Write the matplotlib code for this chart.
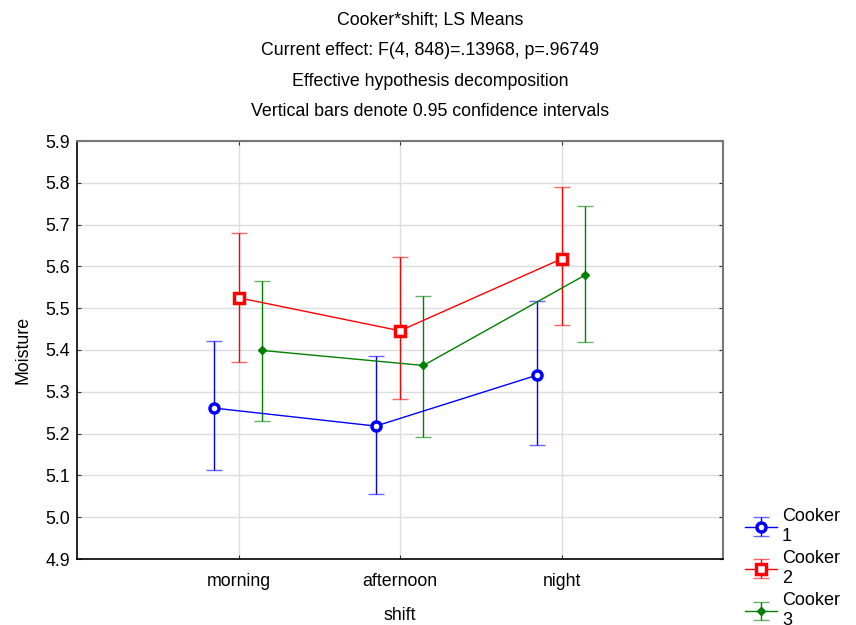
import matplotlib
matplotlib.use("Agg")
import matplotlib.pyplot as plt
import numpy as np

plt.rcParams['font.family'] = ['Liberation Sans', 'DejaVu Sans']

shifts = ["morning", "afternoon", "night"]
cookers = ["Cooker\n1", "Cooker\n2", "Cooker\n3"]
means = {
    "1": [5.261, 5.218, 5.340],
    "2": [5.525, 5.446, 5.618],
    "3": [5.399, 5.363, 5.579],
}
upper = {
    "1": [5.422, 5.386, 5.517],
    "2": [5.679, 5.622, 5.790],
    "3": [5.564, 5.530, 5.745],
}
lower = {
    "1": [5.112, 5.055, 5.173],
    "2": [5.372, 5.282, 5.460],
    "3": [5.229, 5.192, 5.419],
}
titles = [
    "Cooker*shift; LS Means",
    "Current effect: F(4, 848)=.13968, p=.96749",
    "Effective hypothesis decomposition",
    "Vertical bars denote 0.95 confidence intervals",
]

W, H = 856, 625
FS = 12.8
fig = plt.figure(figsize=(W / 100, H / 100), dpi=100)
ax = fig.add_axes([77 / W, 1 - 559 / H, (723 - 77) / W, (559 - 141) / H])

styles = {
    "1": dict(color="#0000ff", marker="o", mfc="white", mec="#0000ff", ms=6.5, mew=2.5, off=-0.15),
    "2": dict(color="#ff0000", marker="s", mfc="white", mec="#ff0000", ms=6.5, mew=2.5, off=0.0),
    "3": dict(color="#008000", marker="D", mfc="#008000", mec="#008000", ms=4.5, mew=1, off=0.145),
}
x = np.arange(1, len(shifts) + 1)
handles = []
for key, lab in zip(["1", "2", "3"], cookers):
    s = styles[key]
    m = np.array(means[key])
    yerr = np.vstack([m - np.array(lower[key]), np.array(upper[key]) - m])
    eb = ax.errorbar(x + s["off"], m, yerr=yerr, color=s["color"], lw=1,
                     elinewidth=1, capsize=6, capthick=1,
                     marker=s["marker"], mfc=s["mfc"], mec=s["mec"],
                     ms=s["ms"], mew=s["mew"], label=lab, zorder=3)
    for cap in eb[1]:
        cap.set_markeredgewidth(1)
        cap.set_alpha(0.6)
    handles.append(eb)

ax.set_xlim(0, 4)
ax.set_ylim(4.9, 5.9)
ax.set_xticks(x)
ax.set_xticklabels(shifts, fontsize=FS)
yt = np.round(np.arange(4.9, 5.91, 0.1), 1)
ax.set_yticks(yt)
ax.set_yticklabels([f"{v:.1f}" for v in yt], fontsize=FS)
ax.grid(True, color="#dddddd", lw=1)
ax.set_axisbelow(True)
ax.tick_params(axis="both", direction="in", length=3, color="#333333",
               top=True, right=True, labeltop=False, labelright=False)
ax.tick_params(axis="x", pad=10)
ax.tick_params(axis="y", pad=5)
for sp in ["top", "right"]:
    ax.spines[sp].set_color("#777777")
    ax.spines[sp].set_linewidth(1.5)
for sp in ["left", "bottom"]:
    ax.spines[sp].set_color("#000000")
    ax.spines[sp].set_linewidth(1.2)

ax.set_xlabel("shift", fontsize=FS, labelpad=12)
ax.set_ylabel("Moisture", fontsize=FS, labelpad=10)

for i, t in enumerate(titles):
    fig.text(430 / W, 1 - (20 + 30.5 * i) / H, t, ha="center", va="center", fontsize=FS)

leg = fig.legend(handles=handles, labels=cookers, loc="upper left",
                 bbox_to_anchor=(736 / W, 1 - 499 / H), frameon=False,
                 fontsize=13, handlelength=1.75, handletextpad=0.3,
                 labelspacing=0.3, borderpad=0)

fig.savefig("out.png", dpi=100)
